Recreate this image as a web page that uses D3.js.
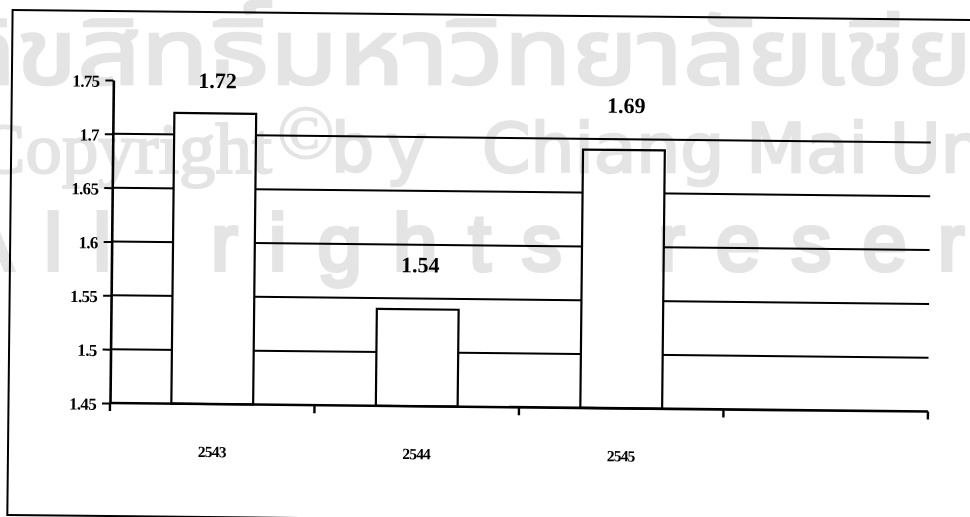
<!DOCTYPE html>
<html>
<head>
<meta charset="utf-8">
<script src="https://cdn.jsdelivr.net/npm/d3@7/dist/d3.min.js"></script>
<style>
  html, body { margin: 0; padding: 0; background: #fff; }
  svg { display: block; }
  .serif { font-family: "Liberation Serif", "Times New Roman", "DejaVu Serif", serif; font-weight: bold; fill: #000; }
</style>
</head>
<body>
<svg id="chart" width="970" height="517"></svg>
<script>
// Years on the category axis; the last slot is left empty
const years = ["2543", "2544", "2545", ""];
// Value of each year's bar
const values = [1.72, 1.54, 1.69];
// Value-axis ticks and the horizontal gridlines
const yTicks = [1.45, 1.5, 1.55, 1.6, 1.65, 1.7, 1.75];
const gridValues = [1.5, 1.55, 1.6, 1.65, 1.7];
// Copyright stamp texts
const stampThai = "ลิขสิทธิ์มหาวิทยาลัยเชียงใหม่";
const stampCopy = ["Copyright", "©", "by", "Chiang Mai University"];
const stampRights = ["All", "rights", "reserved"];

const svg = d3.select("#chart");
svg.append("rect").attr("width", 970).attr("height", 517).attr("fill", "#fff");

const x = d3.scaleBand().domain(years).range([110, 928]).paddingInner(0).paddingOuter(0);
const y = d3.scaleLinear().domain([1.45, 1.75]).range([403, 80]);
const barW = x.bandwidth() * 0.4;

// the printed page sits slightly skewed
const page = svg.append("g")
  .attr("transform", `rotate(0.6, ${x.range()[0]}, ${y(1.45)})`);

// outer frame
page.append("rect")
  .attr("x", 8.5).attr("y", 11).attr("width", 1100).attr("height", 505)
  .attr("fill", "none").attr("stroke", "#000").attr("stroke-width", 2);

// gridlines
page.append("g").selectAll("line").data(gridValues).join("line")
  .attr("x1", x.range()[0]).attr("x2", x.range()[1])
  .attr("y1", d => y(d)).attr("y2", d => y(d))
  .attr("stroke", "#000").attr("stroke-width", 2);

// bars
const data = values.map((v, i) => ({ year: years[i], value: v }));
page.append("g").selectAll("rect").data(data).join("rect")
  .attr("x", d => x(d.year) + (x.bandwidth() - barW) / 2)
  .attr("width", barW)
  .attr("y", d => y(d.value))
  .attr("height", d => y(1.45) - y(d.value))
  .attr("fill", "#fff").attr("stroke", "#000").attr("stroke-width", 2.2);

// value labels above bars (kept inside the plot area)
page.append("g").selectAll("text").data(data).join("text")
  .attr("class", "serif")
  .attr("x", d => x(d.year) + x.bandwidth() / 2 + 2)
  .attr("y", d => Math.max(y(d.value) - 37, y(1.75) + 7))
  .attr("text-anchor", "middle")
  .attr("font-size", 22)
  .text(d => d.value.toFixed(2));

// value axis
const yAxis = page.append("g")
  .attr("transform", `translate(${x.range()[0]},0)`)
  .call(d3.axisLeft(y).tickValues(yTicks).tickFormat(d => String(d)).tickSize(8).tickSizeOuter(0).tickPadding(6));
yAxis.select(".domain").attr("stroke", "#000").attr("stroke-width", 2.6);
yAxis.selectAll(".tick line").attr("stroke", "#000").attr("stroke-width", 2);
yAxis.selectAll(".tick text")
  .attr("class", "serif").attr("font-size", 17).attr("dy", "0.38em")
  .attr("letter-spacing", -0.7);

// category axis with ticks on the slot boundaries
const xAxis = page.append("g");
xAxis.append("line")
  .attr("x1", x.range()[0]).attr("x2", x.range()[1])
  .attr("y1", y(1.45)).attr("y2", y(1.45))
  .attr("stroke", "#000").attr("stroke-width", 2.6);
const bounds = years.map(d => x(d)).concat([x.range()[1]]);
xAxis.selectAll("line.tk").data(bounds).join("line").attr("class", "tk")
  .attr("x1", d => d).attr("x2", d => d)
  .attr("y1", y(1.45)).attr("y2", y(1.45) + 8)
  .attr("stroke", "#000").attr("stroke-width", 2.4);
xAxis.selectAll("text").data(years.filter(d => d)).join("text")
  .attr("class", "serif")
  .attr("x", d => x(d) + x.bandwidth() / 2)
  .attr("y", y(1.45) + 53)
  .attr("text-anchor", "middle")
  .attr("font-size", 15.5)
  .attr("letter-spacing", -0.8)
  .text(d => d);

// copyright stamp, printed over the page
const ink = "#e4e4e4";
const stamp = svg.append("g")
  .style("mix-blend-mode", "multiply")
  .attr("fill", ink).attr("stroke", ink);

// stretch a text so that characters [i0, i1) run from px0 to px1
function fitSpan(sel, i0, i1, px0, px1) {
  const node = sel.node();
  try {
    const full = node.getComputedTextLength();
    const a = i0 > 0 ? node.getSubStringLength(0, i0) : 0;
    const b = node.getSubStringLength(0, i1);
    const s = (px1 - px0) / (b - a);
    sel.attr("x", px0 - a * s)
      .attr("textLength", full * s)
      .attr("lengthAdjust", "spacingAndGlyphs");
  } catch (e) {
    sel.attr("x", px0);
  }
}

const thai = stamp.append("text")
  .attr("x", 0).attr("y", 84)
  .attr("font-family", "'Noto Sans Thai', 'Noto Serif Thai', Loma, Garuda, Waree, Norasi, 'Tlwg Typo', sans-serif")
  .attr("font-size", 92).attr("stroke-width", 2.5)
  .text(stampThai);
fitSpan(thai, 10, 20, 338, 813);

const serifFont = "'Liberation Serif', 'Times New Roman', serif";
const sansFont = "'Liberation Sans', Arial, sans-serif";
const wideSans = "'DejaVu Sans', Verdana, sans-serif";
const copy = stamp.append("text").attr("x", -23).attr("y", 173)
  .attr("font-family", serifFont).attr("font-size", 72).attr("stroke-width", 2)
  .text(stampCopy[0]);
fitSpan(copy, 0, 9, -23, 272);
stamp.append("text").attr("x", 277).attr("y", 158)
  .attr("font-family", serifFont).attr("font-size", 76).attr("stroke-width", 1.2)
  .text(stampCopy[1]);
stamp.append("text").attr("x", 331).attr("y", 172)
  .attr("font-family", wideSans).attr("font-size", 68).attr("stroke-width", 2.5)
  .attr("letter-spacing", 12)
  .text(stampCopy[2]);
const chiang = stamp.append("text").attr("x", 485).attr("y", 172)
  .attr("font-family", wideSans).attr("font-size", 68).attr("stroke-width", 2.5)
  .text(stampCopy[3]);
fitSpan(chiang, 0, 11, 482, 890);

const rightsX = [-40, 211, 658];
stamp.selectAll("text.rights").data(stampRights).join("text").attr("class", "rights")
  .attr("x", (d, i) => rightsX[i]).attr("y", 270)
  .attr("font-family", sansFont).attr("font-size", 80).attr("stroke-width", 4)
  .attr("letter-spacing", 31)
  .text(d => d);
</script>
</body>
</html>
